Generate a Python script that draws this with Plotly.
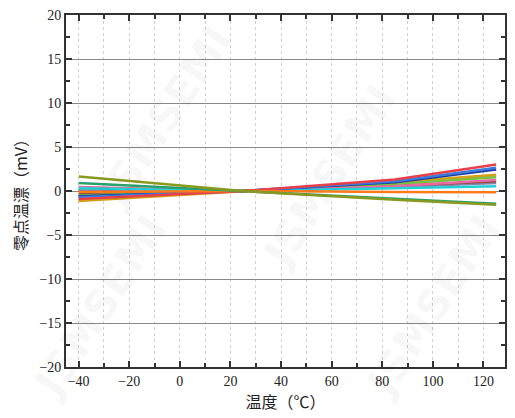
import plotly.graph_objects as go

# Temperature points (°C) and zero-point drift per unit (mV)
temps = [-40, 25, 85, 125]

drift_red = [-0.9, 0.0, 1.3, 3.0]
drift_blue = [-0.7, 0.0, 1.1, 2.65]
drift_navy = [-0.6, 0.0, 1.0, 2.45]
drift_gold = [-1.15, 0.0, 1.0, 1.85]
drift_lime = [-0.5, 0.0, 0.8, 1.55]
drift_brown = [-0.35, 0.0, 0.6, 1.1]
drift_pink = [0.45, 0.0, 0.55, 1.25]
drift_cyan = [0.3, 0.0, 0.3, 0.55]
drift_gray = [0.15, 0.0, 0.45, 0.9]
drift_orange = [-0.1, 0.0, -0.1, -0.15]
drift_teal = [0.9, 0.0, -0.9, -1.45]
drift_olive = [1.65, 0.0, -1.0, -1.55]
drift_amber = [-0.97, 0.0, 0.85, 1.7]

series = [
    (drift_amber, "#e8b020"),
    (drift_gold, "#d4a017"),
    (drift_gray, "#8c7fa8"),
    (drift_brown, "#8c4a3a"),
    (drift_lime, "#7ac143"),
    (drift_pink, "#e86aa0"),
    (drift_cyan, "#22d0d8"),
    (drift_navy, "#1f3f9f"),
    (drift_blue, "#3a7de0"),
    (drift_red, "#e8404a"),
    (drift_orange, "#ff7a1a"),
    (drift_teal, "#2aa06a"),
    (drift_olive, "#8a9a20"),
]

x_ticks = [-40, -20, 0, 20, 40, 60, 80, 100, 120]
y_ticks = [-20, -15, -10, -5, 0, 5, 10, 15, 20]

fig = go.Figure()
for values, color in series:
    fig.add_trace(go.Scatter(x=temps, y=values, mode="lines",
                             line=dict(color=color, width=2.5),
                             showlegend=False, hoverinfo="skip"))

num_font = dict(family="Liberation Serif, DejaVu Serif, serif", size=14, color="#222")
cjk_font = dict(family="Noto Sans CJK SC, sans-serif", size=16, color="#222")

fig.update_xaxes(
    range=[-45, 128.5], tickvals=x_ticks, ticks="inside", ticklen=6,
    tickwidth=1.5, tickcolor="#333", mirror="ticks", showline=True,
    linecolor="#333", linewidth=1.8, showgrid=True, gridcolor="#d0d0d0",
    griddash="dot", gridwidth=1, zeroline=False, tickfont=num_font,
    title=dict(text="温度（℃）", font=cjk_font, standoff=4),
    minor=dict(dtick=10, tick0=0, ticks="inside", ticklen=4, tickcolor="#333",
               showgrid=True, gridcolor="#d0d0d0", griddash="dot"),
)
fig.update_yaxes(
    range=[-20, 20], tickvals=y_ticks, ticks="inside", ticklen=6,
    tickwidth=1.5, tickcolor="#333", mirror="ticks", showline=True,
    linecolor="#333", linewidth=1.8, showgrid=True, gridcolor="#888",
    gridwidth=1.3, zeroline=False, tickfont=num_font,
    title=dict(text="零点温漂（mV）", font=cjk_font, standoff=8),
    minor=dict(dtick=2.5, tick0=0, ticks="inside", ticklen=4, tickcolor="#333",
               showgrid=False),
)

# Brand watermark
for wx, wy in [(0.224, 0.71), (0.6, 0.54), (0.077, 0.173), (0.835, 0.173)]:
    fig.add_annotation(text="<b>JSMSEMI</b>", x=wx, y=wy, xref="paper", yref="paper",
                       xanchor="center", yanchor="middle",
                       showarrow=False, textangle=-57,
                       font=dict(family="DejaVu Sans", size=42,
                                 color="rgba(0,0,0,0.04)"))

fig.update_layout(
    width=515, height=418, margin=dict(l=66, r=8, t=9, b=51),
    plot_bgcolor="white", paper_bgcolor="white",
)

fig.write_html("out.html")
